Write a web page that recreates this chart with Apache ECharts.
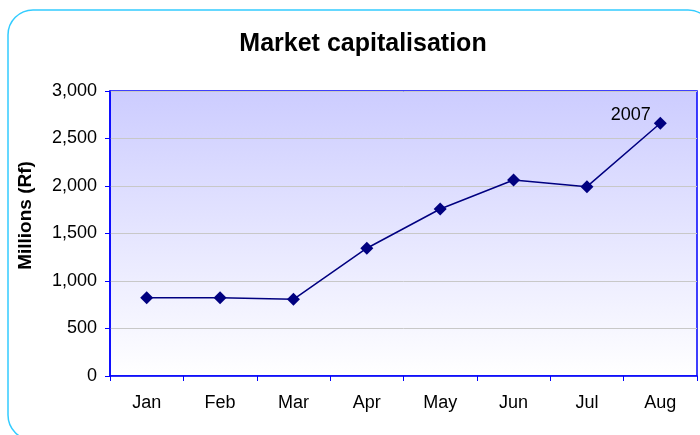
<!DOCTYPE html>
<html>
<head>
<meta charset="utf-8">
<script src="https://cdn.jsdelivr.net/npm/echarts@6/dist/echarts.min.js"></script>
<style>
html,body{margin:0;padding:0;background:#fff;}
#c{width:700px;height:435px;}
</style>
</head>
<body>
<div id="c"></div>
<script>
var months = ['Jan','Feb','Mar','Apr','May','Jun','Jul','Aug'];
var marketCap = [824, 824, 807, 1345, 1758, 2063, 1993, 2660];
var yearLabel = '2007';
var FONT = 'Liberation Sans, Arial, sans-serif';

var chart = echarts.init(document.getElementById('c'));
var seriesData = marketCap.map(function(v, i){
  if (i === marketCap.length - 1) {
    return {value: v, label: {show: true, formatter: yearLabel, position: 'left', offset: [2, -8], color: '#000', fontSize: 18, fontFamily: FONT}};
  }
  return v;
});
chart.setOption({
  animation: false,
  backgroundColor: '#fff',
  graphic: [{
    type: 'rect', z: -10,
    shape: {x: 8, y: 10, width: 705, height: 430, r: 25},
    style: {fill: 'none', stroke: '#33ccff', lineWidth: 1.5}
  }],
  title: {
    text: 'Market capitalisation', left: 358, textAlign: 'center', top: 27,
    textStyle: {fontSize: 25, fontWeight: 'bold', color: '#000', fontFamily: FONT}
  },
  grid: {
    left: 110, right: 3, top: 91, bottom: 59, show: true,
    backgroundColor: new echarts.graphic.LinearGradient(0, 0, 0, 1, [
      {offset: 0, color: '#ccccff'}, {offset: 1, color: '#ffffff'}
    ]),
    borderColor: '#0000ff', borderWidth: 1.5
  },
  xAxis: {
    type: 'category', data: months, boundaryGap: true,
    axisLine: {lineStyle: {color: '#0000ff', width: 1.5}},
    axisTick: {show: true, length: 5, lineStyle: {color: '#0000ff'}},
    axisLabel: {color: '#000', fontSize: 18, margin: 18, fontFamily: FONT}
  },
  yAxis: {
    type: 'value', min: 0, max: 3000, interval: 500,
    name: 'Millions (Rf)', nameLocation: 'middle', nameGap: 75,
    nameTextStyle: {fontSize: 19, fontWeight: 'bold', color: '#000', fontFamily: FONT, padding: [0, 0, 0, 36]},
    axisLine: {show: true, lineStyle: {color: '#0000ff', width: 1.5}},
    axisTick: {show: true, length: 5, lineStyle: {color: '#0000ff'}},
    axisLabel: {color: '#000', fontSize: 18, margin: 13, fontFamily: FONT,
      formatter: function(v){ return v.toLocaleString('en-US'); }},
    splitLine: {lineStyle: {color: '#c8c8c8', width: 1}}
  },
  series: [{
    type: 'line', data: seriesData,
    symbol: 'diamond', symbolSize: 13,
    lineStyle: {color: '#000080', width: 1.5},
    itemStyle: {color: '#000080'}
  }]
});
</script>
</body>
</html>
